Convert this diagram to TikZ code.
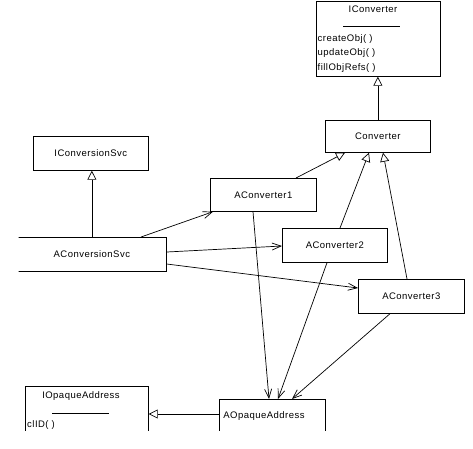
\documentclass[tikz,border=0pt]{standalone}
\usepackage{fontspec}
\setmainfont{Liberation Sans}[LetterSpace=5]
\usetikzlibrary{arrows.meta, calc}
\tikzset{
  lbl/.style={font=\fontsize{9.5}{11}\selectfont, inner sep=0pt},
  box/.style={draw, line width=0.7pt, anchor=north west, lbl},
  gen/.style={-{Triangle[open, length=9pt, width=9pt]}, line width=0.7pt},
  assoc/.style={-{Straight Barb[length=9pt, width=7pt]}, line width=0.7pt},
}
\begin{document}
\begin{tikzpicture}[x=1pt, y=-1pt]
  \useasboundingbox (0,0) rectangle (473,448);
  \clip (18.6,-2) rectangle (475,430);
  % interface classes
  \node[box, minimum width=124pt, minimum height=75.5pt] (iconv) at (316,0.5) {};
  \node[lbl, anchor=base] (iconvname) at (373,12) {IConverter};
  \draw[line width=0.7pt] (343,26) -- (400,26);
  \node[lbl, anchor=base west] (mcreate) at (317.5,41) {createObj( )};
  \node[lbl, anchor=base west] (mupdate) at (317.5,55.5) {updateObj( )};
  \node[lbl, anchor=base west] (mfill) at (317.5,70) {fillObjRefs( )};
  \node[box, minimum width=115pt, minimum height=34pt] (icsvc) at (33,136) {IConversionSvc};
  \node[box, minimum width=123pt, minimum height=50pt] (iopq) at (25,386) {};
  \node[lbl, anchor=base] (iopqname) at (81,398.5) {IOpaqueAddress};
  \draw[line width=0.7pt] (52,413) -- (109,413);
  \node[lbl, anchor=base west] (mclid) at (27,427.5) {clID( )};
  % implementations
  \node[box, minimum width=105pt, minimum height=32pt] (conv) at (325,120) {Converter};
  \node[box, minimum width=106pt, minimum height=33pt] (ac1) at (210,178) {AConverter1};
  \node[box, minimum width=105pt, minimum height=34pt] (ac2) at (282,228) {AConverter2};
  \node[box, minimum width=106pt, minimum height=34pt] (ac3) at (358,279) {AConverter3};
  \node[box, minimum width=149pt, minimum height=34pt] (acs) at (17,237) {AConversionSvc};
  \node[box, minimum width=106pt, minimum height=33pt, text width=98pt, inner xsep=4pt,
        align=left] (aopq) at (219,399) {AOpaqueAddress};
  % generalisations
  \draw[gen] (conv.north) -- (conv.north |- iconv.south);
  \draw[gen] (acs.north) -- (acs.north |- icsvc.south);
  \draw[gen] ($(ac1.north west)+(86,0)$) -- ($(conv.south west)+(20,0)$);
  \draw[gen] ($(ac2.north west)+(58,0)$) -- ($(conv.south west)+(44,0)$);
  \draw[gen] ($(ac3.north west)+(49,0)$) -- ($(conv.south west)+(58,0)$);
  \draw[gen] ($(aopq.north west)+(0,15)$) coordinate (aopqleft) -- (aopqleft -| iopq.east);
  % associations
  \draw[assoc] ($(acs.north west)+(124,0)$) -- ($(ac1.south west)+(3,0)$);
  \draw[assoc] ($(acs.north east)+(0,15)$) -- ($(ac2.north west)+(0,18)$);
  \draw[assoc] ($(acs.north east)+(0,27)$) -- ($(ac3.north west)+(0,9)$);
  \draw[assoc] ($(ac1.south west)+(43,0)$) -- ($(aopq.north west)+(50,0)$);
  \draw[assoc] ($(ac2.south west)+(45,0)$) -- ($(aopq.north west)+(59,0)$);
  \draw[assoc] ($(ac3.south west)+(32,0)$) -- ($(aopq.north west)+(73,0)$);
\end{tikzpicture}
\end{document}
